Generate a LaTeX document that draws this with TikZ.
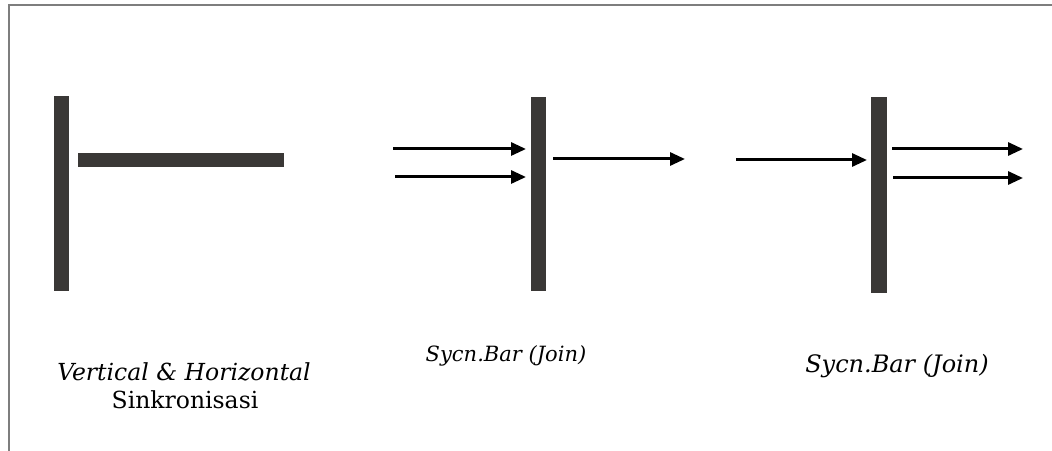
\documentclass[tikz,border=0pt]{standalone}
\usepackage{fontspec}
\setmainfont{DejaVu Serif}
\usetikzlibrary{arrows.meta}
\definecolor{barc}{HTML}{3A3836}
\definecolor{framec}{HTML}{7E7E7E}
\tikzset{
  bar/.style={draw=none, fill=barc, inner sep=0pt, outer sep=0pt},
  arr/.style={line width=3pt, -{Triangle[length=15pt,width=13pt]}},
  lbl/.style={inner sep=0pt, font=\itshape},
}
\begin{document}
\begin{tikzpicture}[x=1pt,y=1pt]
\useasboundingbox (0,0) rectangle (1052,450);
% frame
\draw[framec, line width=2.4pt] (9,-5) -- (9,445) -- (1060,445);
% left symbol
\node[bar, minimum width=15pt, minimum height=195pt] (b1) at (61.5,256.5) {};
\node[bar, minimum width=206pt, minimum height=14pt] (h1) at (181,290) {};
% middle join
\node[bar, minimum width=15pt, minimum height=194pt] (b2) at (538.5,256) {};
\coordinate (m1) at (393,301);
\coordinate (m2) at (395,273);
\coordinate (mo) at (685,291);
\draw[arr, shorten >=5pt] (m1) -- (m1 -| b2.west);
\draw[arr, shorten >=5pt] (m2) -- (m2 -| b2.west);
\draw[arr, shorten <=7pt] (mo -| b2.east) -- (mo);
% right fork
\node[bar, minimum width=16pt, minimum height=196pt] (b3) at (879,255) {};
\coordinate (r1) at (736,290);
\coordinate (ro1) at (1023,301);
\coordinate (ro2) at (1023,272);
\draw[arr, shorten >=4pt] (r1) -- (r1 -| b3.west);
\draw[arr, shorten <=5pt] (ro1 -| b3.east) -- (ro1);
\draw[arr, shorten <=6pt] (ro2 -| b3.east) -- (ro2);
% labels
\node[lbl, font=\fontsize{23.5}{26}\selectfont\itshape] (t1) at (184,78) {Vertical \& Horizontal};
\node[inner sep=0pt, font=\fontsize{23.5}{26}\selectfont] (t2) at (185,50) {Sinkronisasi};
\node[lbl, font=\fontsize{21}{24}\selectfont\itshape] (t3) at (506,94) {Sycn.Bar (Join)};
\node[lbl, font=\fontsize{24}{27}\selectfont\itshape] (t4) at (897,84) {Sycn.Bar (Join)};
\end{tikzpicture}
\end{document}
